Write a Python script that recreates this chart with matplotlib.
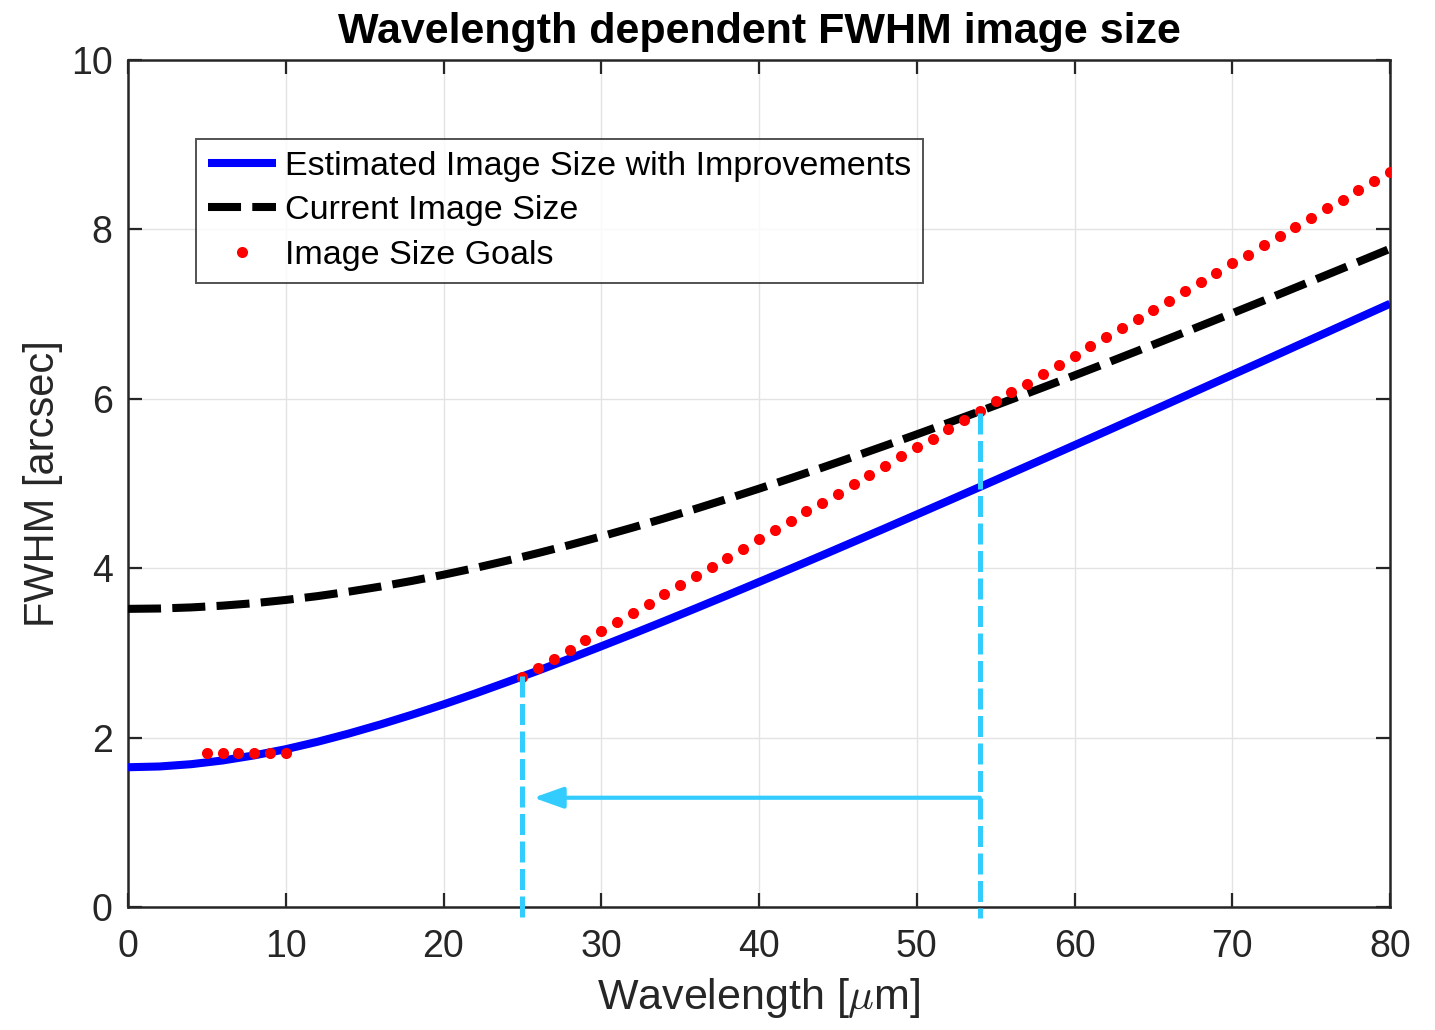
import numpy as np
import matplotlib
matplotlib.use("Agg")
import matplotlib.pyplot as plt

# ---- data ---------------------------------------------------------------
wavelength_curve = np.arange(0, 81, 2)  # micrometres

improved_fwhm = [1.650, 1.659, 1.686, 1.730, 1.790, 1.863, 1.950, 2.048, 2.155,
                 2.270, 2.392, 2.520, 2.654, 2.791, 2.933, 3.078, 3.225, 3.375,
                 3.527, 3.681, 3.837, 3.994, 4.152, 4.312, 4.472, 4.634, 4.796,
                 4.959, 5.123, 5.287, 5.452, 5.617, 5.783, 5.949, 6.116, 6.283,
                 6.450, 6.618, 6.785, 6.954, 7.122]

current_fwhm = [3.520, 3.524, 3.537, 3.558, 3.587, 3.625, 3.670, 3.723, 3.783,
                3.850, 3.923, 4.002, 4.088, 4.179, 4.274, 4.375, 4.480, 4.589,
                4.702, 4.819, 4.939, 5.062, 5.187, 5.316, 5.447, 5.580, 5.716,
                5.853, 5.993, 6.134, 6.276, 6.420, 6.566, 6.713, 6.861, 7.010,
                7.160, 7.312, 7.464, 7.617, 7.771]

goal_wl_short = [5, 6, 7, 8, 9, 10]
goal_fwhm_short = [1.82, 1.82, 1.82, 1.82, 1.82, 1.82]

goal_wl_long = list(range(25, 81))
goal_fwhm_long = [2.71, 2.82, 2.93, 3.04, 3.15, 3.26, 3.36, 3.47, 3.58, 3.69,
                  3.80, 3.91, 4.01, 4.12, 4.23, 4.34, 4.45, 4.56, 4.67, 4.77,
                  4.88, 4.99, 5.10, 5.21, 5.32, 5.43, 5.53, 5.64, 5.75, 5.86,
                  5.97, 6.08, 6.18, 6.29, 6.40, 6.51, 6.62, 6.73, 6.84, 6.94,
                  7.05, 7.16, 7.27, 7.38, 7.49, 7.60, 7.70, 7.81, 7.92, 8.03,
                  8.14, 8.25, 8.35, 8.46, 8.57, 8.68]

# wavelengths where the improved curve meets the goal and where the current one does
marker_wl_improved = 25
marker_wl_current = 54
marker_fwhm_improved = 2.73
marker_fwhm_current = 5.83
arrow_level = 1.29
arrow_tip_wl = 25.7

x_ticks = [0, 10, 20, 30, 40, 50, 60, 70, 80]
y_ticks = [0, 2, 4, 6, 8, 10]

# ---- styling ------------------------------------------------------------
plt.rcParams['font.family'] = ['Liberation Sans', 'DejaVu Sans']
plt.rcParams['mathtext.fontset'] = 'cm'
axis_col = '#262626'
cyan = '#33CCFF'

fig = plt.figure(figsize=(14.35, 10.30), dpi=100)
ax = fig.add_axes([128 / 1435, 123 / 1030, 1262 / 1435, 847 / 1030])

ax.plot(wavelength_curve, improved_fwhm, color='#0000FF', lw=5.8,
        solid_capstyle='butt', label='Estimated Image Size with Improvements',
        zorder=3)
ax.plot(wavelength_curve, current_fwhm, color='black', lw=5.8,
        dashes=(4.1, 1.4), dash_capstyle='butt',
        label='Current Image Size', zorder=3)
ax.plot(goal_wl_short, goal_fwhm_short, 'o', color='#FF0000', ms=8,
        mec='none', label='Image Size Goals', zorder=4)
ax.plot(goal_wl_long, goal_fwhm_long, 'o', color='#FF0000', ms=8,
        mec='none', zorder=4)

# annotation: dashed drop lines and arrow
for wl, top in [(marker_wl_improved, marker_fwhm_improved),
                (marker_wl_current, marker_fwhm_current)]:
    ax.plot([wl, wl], [top, -0.13], color=cyan, lw=3.6, dashes=(4.2, 1.3),
            dash_capstyle='butt', clip_on=False, zorder=5)

ax.annotate('', xy=(arrow_tip_wl, arrow_level),
            xytext=(marker_wl_current, arrow_level),
            arrowprops=dict(arrowstyle='-|>,head_length=0.9,head_width=0.32',
                            color=cyan, lw=3.0, mutation_scale=20,
                            shrinkA=0, shrinkB=0), zorder=5)

ax.set_xlim(0, 80)
ax.set_ylim(0, 10)
ax.set_xticks(x_ticks)
ax.set_yticks(y_ticks)
ax.grid(True, color='#E3E3E3', lw=1.0, zorder=0)
ax.set_axisbelow(True)

for sp in ax.spines.values():
    sp.set_color(axis_col)
    sp.set_linewidth(1.8)

ax.tick_params(direction='in', length=10, width=1.6, color=axis_col,
               labelcolor=axis_col, labelsize=27, top=True, right=True)
ax.tick_params(axis='x', pad=16)
ax.tick_params(axis='y', pad=11)

ax.set_xlabel(r'Wavelength [$\mu$m]', fontsize=31, color=axis_col, labelpad=8)
ax.set_ylabel('FWHM [arcsec]', fontsize=30, color=axis_col, labelpad=6)
ax.set_title('Wavelength dependent FWHM image size', fontsize=31,
             fontweight='bold', pad=12)

leg = ax.legend(loc='upper left', bbox_to_anchor=(0.054, 0.907), fontsize=24.5,
                frameon=True, fancybox=False, edgecolor=axis_col,
                handlelength=2.0, handletextpad=0.25, labelspacing=0.4,
                borderpad=0.35, borderaxespad=0, markerscale=1.0)
leg.get_frame().set_linewidth(1.4)

fig.savefig('out.png', dpi=100, facecolor='white')
